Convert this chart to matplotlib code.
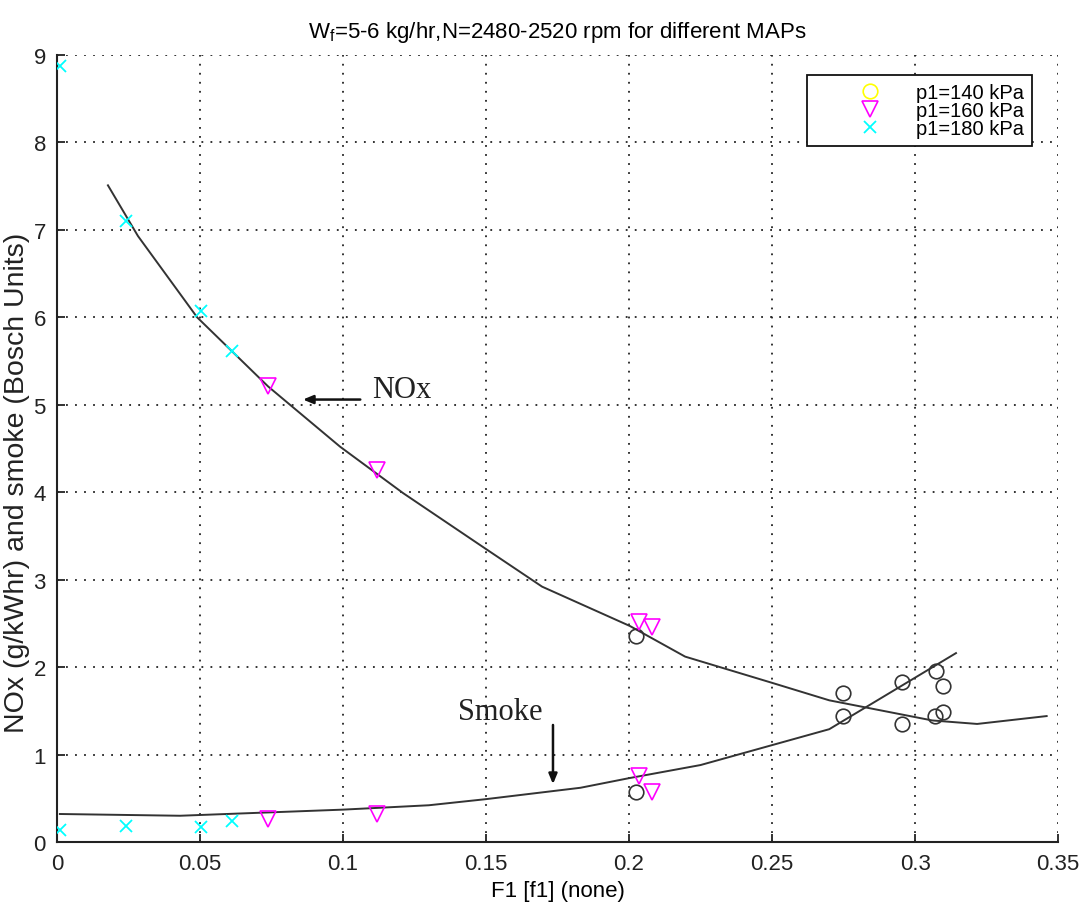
import matplotlib
matplotlib.use("Agg")
import matplotlib.pyplot as plt
from matplotlib.lines import Line2D

plt.rcParams["font.family"] = ["Liberation Sans", "DejaVu Sans"]
plt.rcParams["mathtext.default"] = "regular"

# ---------------- data ----------------
title = r"W$_f$=5-6 kg/hr,N=2480-2520 rpm for different MAPs"
xlabel = "F1 [f1] (none)"
ylabel = "NOx (g/kWhr) and smoke (Bosch Units)"
legend_labels = ["p1=140 kPa", "p1=160 kPa", "p1=180 kPa"]

# p1 = 140 kPa (circles)
p140_x = [0.2025, 0.2025, 0.2748, 0.2748, 0.2955, 0.2955, 0.3073, 0.3070, 0.3098, 0.3098]
p140_y = [2.36, 0.57, 1.70, 1.44, 1.83, 1.35, 1.96, 1.44, 1.78, 1.49]

# p1 = 160 kPa (triangles)
p160_x = [0.0738, 0.1120, 0.2035, 0.2080, 0.0738, 0.1120, 0.2035, 0.2080]
p160_y = [5.21, 4.25, 2.52, 2.46, 0.26, 0.32, 0.76, 0.57]

# p1 = 180 kPa (crosses)
p180_x = [0.0010, 0.0241, 0.0503, 0.0612, 0.0010, 0.0241, 0.0503, 0.0612]
p180_y = [8.88, 7.10, 6.07, 5.61, 0.14, 0.18, 0.17, 0.24]

# fitted curves
nox_fit_x = [0.0178, 0.0283, 0.049, 0.0738, 0.099, 0.121, 0.150, 0.1696, 0.2003, 0.2196, 0.250, 0.270, 0.306, 0.3217, 0.346]
nox_fit_y = [7.51, 6.93, 6.00, 5.21, 4.52, 3.99, 3.35, 2.92, 2.47, 2.12, 1.82, 1.62, 1.39, 1.35, 1.44]

smoke_fit_x = [0.001, 0.043, 0.100, 0.130, 0.150, 0.183, 0.200, 0.225, 0.270, 0.3143]
smoke_fit_y = [0.32, 0.30, 0.37, 0.42, 0.49, 0.62, 0.73, 0.88, 1.29, 2.16]

xticks = [0, 0.05, 0.1, 0.15, 0.2, 0.25, 0.3, 0.35]
xticklabels = ["0", "0.05", "0.1", "0.15", "0.2", "0.25", "0.3", "0.35"]
yticks = [0, 1, 2, 3, 4, 5, 6, 7, 8, 9]

# ---------------- figure ----------------
fig = plt.figure(figsize=(10.84, 9.04), dpi=100)
ax = fig.add_axes([0.0526, 0.0675, 0.9235, 0.8705])

ax.plot(nox_fit_x, nox_fit_y, color="#333333", lw=1.4, zorder=3)
ax.plot(smoke_fit_x, smoke_fit_y, color="#333333", lw=1.4, zorder=3)

ax.plot(p140_x, p140_y, linestyle="none", marker="o", ms=10.5, mfc="none",
        mec="#333333", mew=1.2, zorder=4)
ax.plot(p160_x, p160_y, linestyle="none", marker="v", ms=11.5, mfc="none",
        mec="#ff00ff", mew=1.2, zorder=4)
ax.plot(p180_x, p180_y, linestyle="none", marker="x", ms=8.5,
        mec="#00ffff", mew=1.3, zorder=4)

ax.set_xlim(0, 0.35)
ax.set_ylim(0, 9)
ax.set_xticks(xticks)
ax.set_xticklabels(xticklabels)
ax.set_yticks(yticks)

ax.grid(True, color="#222222", linestyle=(0, (1, 4)), linewidth=1.3)
ax.set_axisbelow(True)

for s in ["top", "right"]:
    ax.spines[s].set_visible(False)
for s in ["left", "bottom"]:
    ax.spines[s].set_linewidth(1.5)
    ax.spines[s].set_color("#222222")

ax.tick_params(direction="in", length=6, width=1.3, labelsize=16, pad=8,
               colors="#222222")

ax.set_xlabel(xlabel, fontsize=16, labelpad=4)
ax.set_ylabel(ylabel, fontsize=20.5, color="#222222")
ax.yaxis.set_label_coords(-0.027, 0.458)
ax.set_title(title, fontsize=16, pad=13)

# annotations
serif = ["Liberation Serif", "DejaVu Serif"]
ax.annotate("", xy=(0.085, 5.06), xytext=(0.107, 5.06),
            arrowprops=dict(arrowstyle="-|>,head_length=0.6,head_width=0.25",
                            color="#111111", lw=1.8))
ax.text(0.110, 5.17, "NOx", family=serif, fontsize=22, ha="left", va="center",
        color="#222222")
ax.annotate("", xy=(0.1734, 0.63), xytext=(0.1734, 1.37),
            arrowprops=dict(arrowstyle="-|>,head_length=0.6,head_width=0.25",
                            color="#111111", lw=1.8))
ax.text(0.155, 1.49, "Smoke", family=serif, fontsize=22, ha="center", va="center",
        color="#222222")

handles = [
    Line2D([], [], linestyle="none", marker="o", ms=10.5, mfc="none", mec="#ffff00", mew=1.2),
    Line2D([], [], linestyle="none", marker="v", ms=11.5, mfc="none", mec="#ff00ff", mew=1.2),
    Line2D([], [], linestyle="none", marker="x", ms=8.5, mec="#00ffff", mew=1.3),
]
leg = ax.legend(handles, legend_labels, loc="upper right", bbox_to_anchor=(0.974, 0.975),
                borderaxespad=0, fancybox=False, framealpha=1, edgecolor="#111111",
                fontsize=14.5, labelspacing=-0.05, handlelength=5.4, handletextpad=-0.4,
                borderpad=0.4)
leg.get_frame().set_linewidth(1.3)

fig.savefig("out.png", dpi=100)
